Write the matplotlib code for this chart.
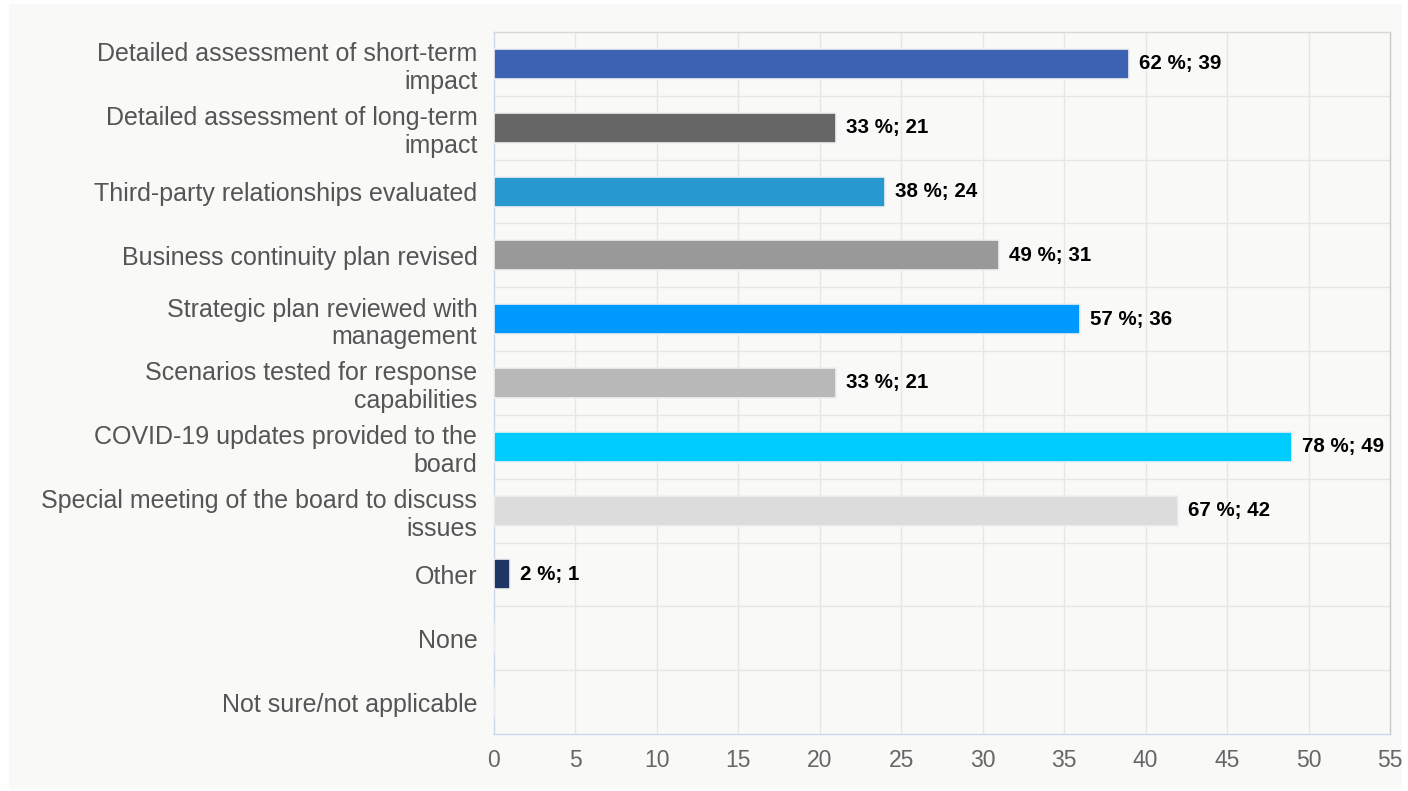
import matplotlib.pyplot as plt
from matplotlib.patches import Rectangle
import numpy as np

plt.rcParams['font.family'] = ['Liberation Sans', 'DejaVu Sans']

categories = [
    "Detailed assessment of short-term\nimpact",
    "Detailed assessment of long-term\nimpact",
    "Third-party relationships evaluated",
    "Business continuity plan revised",
    "Strategic plan reviewed with\nmanagement",
    "Scenarios tested for response\ncapabilities",
    "COVID-19 updates provided to the\nboard",
    "Special meeting of the board to discuss\nissues",
    "Other",
    "None",
    "Not sure/not applicable",
]
counts = [39, 21, 24, 31, 36, 21, 49, 42, 1, 0, 0]
percents = [62, 33, 38, 49, 57, 33, 78, 67, 2, 0, 0]
colors = ["#3d62b3", "#666666", "#2899cf", "#999999", "#0099ff",
          "#b8b8b8", "#00ccff", "#dcdcdc", "#1f3566", "#cccccc", "#cccccc"]

bg = "#f9f9f7"
W, H = 1408, 791
fig = plt.figure(figsize=(W / 100, H / 100), dpi=100, facecolor="white")
# grey chart panel inside a thin white margin
fig.add_artist(Rectangle((9 / W, 2 / H), 1393 / W, 785 / H,
                         transform=fig.transFigure, facecolor=bg,
                         edgecolor="none", zorder=-10))

ax = fig.add_axes([494 / W, 1 - 734 / H, 896 / W, 702 / H])
ax.set_facecolor(bg)

y = np.arange(len(categories))
ax.barh(y, counts, height=0.47, color=colors, edgecolor="#f0f0f0",
        linewidth=1.2, zorder=3)

for yi, c, p in zip(y, counts, percents):
    if c > 0:
        ax.text(c + 0.6, yi, f"{p} %; {c}", va="center", ha="left",
                fontsize=14.8, fontweight="bold", color="#000000", zorder=4)

ax.set_xlim(0, 55)
ax.set_ylim(len(categories) - 0.5, -0.5)
ax.set_xticks(np.arange(0, 56, 5))
ax.set_yticks(y)
ax.set_yticklabels(categories, fontsize=18, color="#555555",
                   linespacing=1.2)
ax.tick_params(axis="x", labelsize=16.5, colors="#666666", length=0, pad=11)
ax.tick_params(axis="y", length=0, pad=12)

# grid: vertical at ticks, horizontal at category boundaries
for xv in np.arange(5, 55, 5):
    ax.axvline(xv, color="#e6e6e6", linewidth=1, zorder=1)
for yb in np.arange(0.5, len(categories) - 0.5, 1):
    ax.axhline(yb, color="#e6e6e6", linewidth=1, zorder=1)

ax.spines["left"].set_color("#ccd6eb")
ax.spines["bottom"].set_color("#ccd6eb")
ax.spines["top"].set_color("#d8d8d8")
ax.spines["right"].set_color("#c8c8c8")
for s in ax.spines.values():
    s.set_linewidth(1)

fig.savefig("out.png", dpi=100, facecolor="white")
